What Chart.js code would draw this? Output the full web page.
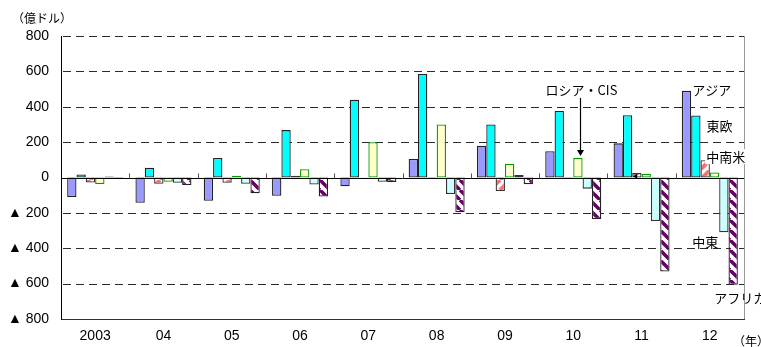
<!DOCTYPE html>
<html>
<head>
<meta charset="utf-8">
<script src="https://cdn.jsdelivr.net/npm/chart.js@4/dist/chart.umd.min.js"></script>
<style>
  html, body { margin: 0; padding: 0; background: #fff; }
  canvas { display: block; }
</style>
</head>
<body>
<canvas id="c" width="761" height="347"></canvas>
<script>
// Direct investment balance by region, 2003-2012 (100 million USD)
const years = ['2003', '04', '05', '06', '07', '08', '09', '10', '11', '12'];
const asia          = [-110, -143, -132, -103,  -50,  105,  180,  148,  193,  490];
const easternEurope = [  17,   55,  110,  268,  440,  585,  300,  376,  352,  351];
const latinAmerica  = [ -28,  -36,  -30,   10,    1,   -3,  -76,    3,   25,   98];
const russiaCIS     = [ -37,  -24,   10,   47,  200,  300,   78,  110,   20,   28];
const middleEast    = [   6,  -30,  -36,  -40,  -24,  -93,   14,  -63, -246, -310];
const africa        = [  -6,  -43,  -89, -108,  -25, -197,  -38, -235, -532, -607];

const yMin = -800, yMax = 800, yStep = 200;

// Diagonal stripe fills
function stripes(color, width, size, dir) {
  const c = document.createElement('canvas');
  c.width = size; c.height = size;
  const g = c.getContext('2d');
  g.fillStyle = '#fff';
  g.fillRect(0, 0, size, size);
  g.strokeStyle = color;
  g.lineWidth = width;
  for (let k = -1; k <= 1; k++) {
    g.beginPath();
    if (dir === 'down') {
      g.moveTo(k * size, 0); g.lineTo(k * size + size, size);
    } else {
      g.moveTo(k * size, size); g.lineTo(k * size + size, 0);
    }
    g.stroke();
  }
  return g.createPattern(c, 'repeat');
}

const pinkHatch = stripes('#ff6f6f', 4, 10, 'up');
const purpleHatch = stripes('#660066', 3.5, 10, 'down');

const decorations = {
  id: 'decorations',
  beforeDatasetsDraw(chart) {
    const { ctx, chartArea: a, scales: { y } } = chart;
    ctx.save();
    ctx.lineWidth = 1;
    ctx.strokeStyle = '#2a2a2a';
    ctx.setLineDash([8, 5]);
    y.ticks.forEach(t => {
      if (t.value === 0 || t.value === yMin) return;
      const py = Math.round(y.getPixelForValue(t.value)) + 0.5;
      ctx.beginPath();
      ctx.moveTo(a.left + 2, py);
      ctx.lineTo(a.right, py);
      ctx.stroke();
    });
    ctx.setLineDash([]);
    ctx.strokeStyle = '#999';
    ctx.beginPath();
    ctx.moveTo(Math.round(a.right) + 0.5, a.top);
    ctx.lineTo(Math.round(a.right) + 0.5, a.bottom);
    ctx.stroke();
    ctx.restore();
  },
  afterDatasetsDraw(chart) {
    const { ctx, chartArea: a, scales: { x, y } } = chart;
    ctx.save();
    const zy = Math.round(y.getPixelForValue(0)) + 0.5;
    ctx.strokeStyle = '#000';
    ctx.lineWidth = 1;
    ctx.beginPath();
    ctx.moveTo(a.left, zy);
    ctx.lineTo(a.right, zy);
    ctx.stroke();
    // category separators on the zero line
    ctx.strokeStyle = '#555';
    for (let i = 1; i < years.length; i++) {
      const bx = Math.round((x.getPixelForTick(i) + x.getPixelForTick(i - 1)) / 2) + 0.5;
      ctx.beginPath();
      ctx.moveTo(bx, zy - 5);
      ctx.lineTo(bx, zy);
      ctx.stroke();
    }
    ctx.restore();
  },
  afterDraw(chart) {
    const { ctx } = chart;
    const bar = (ds, i) => chart.getDatasetMeta(ds).data[i];
    const last = years.length - 1;
    ctx.save();
    ctx.fillStyle = '#000';
    ctx.textBaseline = 'middle';
    ctx.font = '12px "Noto Sans CJK JP"';
    ctx.textAlign = 'left';
    ctx.fillText('（億ドル）', 12, 18);
    ctx.fillText('（年）', 733, 341);

    ctx.font = '13px "Noto Sans CJK JP"';
    // アジア
    const bA = bar(0, last);
    ctx.fillText('アジア', bA.x + bA.width / 2 + 1, bA.y - 1);
    // 東欧
    const bE = bar(1, last);
    ctx.fillText('東欧', bE.x + bE.width / 2 + 6, bE.y + 11);
    // 中南米 with a white box behind
    const bL = bar(2, last);
    const lx = bL.x + 1, ly = bL.y - 3;
    const w = ctx.measureText('中南米').width;
    ctx.fillStyle = '#fff';
    ctx.fillRect(lx - 1, ly - 8, w + 2, 15);
    ctx.fillStyle = '#000';
    ctx.fillText('中南米', lx, ly);
    // 中東
    const bM = bar(4, last);
    ctx.textAlign = 'right';
    ctx.fillText('中東', bM.x - bM.width / 2 - 1, bM.y + 10);
    // アフリカ
    const bF = bar(5, last);
    ctx.textAlign = 'left';
    ctx.fillText('アフリカ', bF.x - 19, bF.y + 13);
    // ロシア・CIS with arrow to the 2010 bar
    const bR = bar(3, 7);
    const ax = Math.round(bR.x + 2) + 0.5;
    ctx.textAlign = 'center';
    ctx.fillText('ロシア・CIS', ax + 1, 90);
    ctx.strokeStyle = '#000';
    ctx.lineWidth = 1.2;
    ctx.beginPath();
    ctx.moveTo(ax, 98);
    ctx.lineTo(ax, bR.y - 6);
    ctx.stroke();
    ctx.beginPath();
    ctx.moveTo(ax - 3.5, bR.y - 8);
    ctx.lineTo(ax + 3.5, bR.y - 8);
    ctx.lineTo(ax, bR.y - 2);
    ctx.closePath();
    ctx.fill();
    // small pointer at the 2011 bar
    const bS = bar(2, 8);
    const sx = bS.x - bS.width / 2 + 1, sy = chart.scales.y.getPixelForValue(0) - 1;
    ctx.beginPath();
    ctx.moveTo(sx, sy);
    ctx.lineTo(sx + 4, sy - 3);
    ctx.lineTo(sx + 4, sy + 2);
    ctx.closePath();
    ctx.fill();
    ctx.restore();
  }
};

const common = { borderWidth: 1.3, borderSkipped: false, categoryPercentage: 0.82, barPercentage: 1.0 };

new Chart(document.getElementById('c'), {
  type: 'bar',
  data: {
    labels: years,
    datasets: [
      { label: 'アジア', data: asia, backgroundColor: '#9999ff', borderColor: '#222', ...common },
      { label: '東欧', data: easternEurope, backgroundColor: '#00ffff', borderColor: '#222', ...common },
      { label: '中南米', data: latinAmerica, backgroundColor: pinkHatch, borderColor: '#333', ...common },
      { label: 'ロシア・CIS', data: russiaCIS, backgroundColor: '#ffffcc', borderColor: '#009900', ...common },
      { label: '中東', data: middleEast, backgroundColor: '#ccffff', borderColor: '#333', ...common },
      { label: 'アフリカ', data: africa, backgroundColor: purpleHatch, borderColor: '#222', ...common }
    ]
  },
  options: {
    responsive: false,
    animation: false,
    devicePixelRatio: 1,
    layout: { padding: { top: 36, right: 17, bottom: 0, left: 0 } },
    plugins: { legend: { display: false }, tooltip: { enabled: false } },
    scales: {
      x: {
        grid: { display: false, drawTicks: false },
        border: { display: true, color: '#333', width: 1 },
        ticks: { color: '#000', font: { family: '"Liberation Sans", Arial', size: 14 }, padding: 9, maxRotation: 0 },
        afterFit(s) { s.height = 28; }
      },
      y: {
        min: yMin, max: yMax,
        grid: { display: false, drawTicks: false },
        border: { display: true, color: '#000', width: 1 },
        ticks: {
          stepSize: yStep,
          color: '#000',
          padding: 12,
          font: { family: '"Liberation Sans", Arial', size: 14 },
          callback: v => v < 0 ? '▲ ' + (-v) : String(v)
        },
        afterFit(s) { s.width = 61; }
      }
    }
  },
  plugins: [decorations]
});
</script>
</body>
</html>
